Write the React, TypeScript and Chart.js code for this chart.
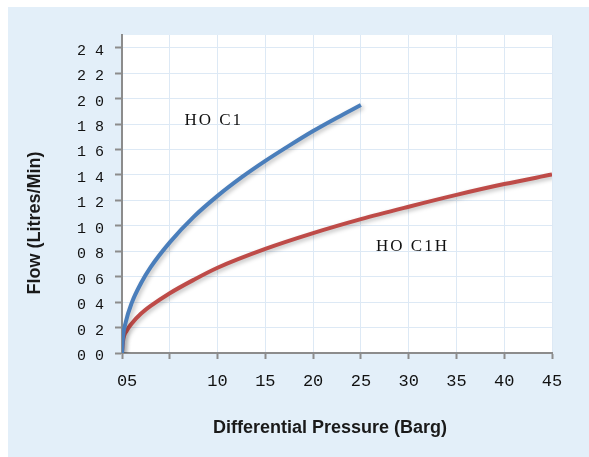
import React, { useEffect, useRef } from "react";
import { Chart, registerables } from "chart.js";
Chart.register(...registerables);

const pressureTicks = [0, 5, 10, 15, 20, 25, 30, 35, 40, 45];
const pressureLabels = [" 05", "", "10", "15", "20", "25", "30", "35", "40", "45"];
const flowTicks = [0, 2, 4, 6, 8, 10, 12, 14, 16, 18, 20, 22, 24];
const flowLabels = ["0 0", "0 2", "0 4", "0 6", "0 8", "1 0", "1 2", "1 4", "1 6", "1 8", "2 0", "2 2", "2 4"];

const hoc1Pressure = [0, 0.1, 0.4, 1, 2, 3, 5, 7.5, 10, 12.5, 15, 17.5, 20, 22.5, 25];
const hoc1Flow = [0, 1.2, 2.45, 3.9, 5.5, 6.75, 8.7, 10.7, 12.35, 13.8, 15.1, 16.3, 17.45, 18.5, 19.5];
const hoc1hPressure = [0, 0.1, 0.5, 1, 2, 3, 5, 7.5, 10, 15, 20, 25, 30, 35, 40, 45];
const hoc1hFlow = [0, 0.9, 1.75, 2.3, 3.1, 3.7, 4.7, 5.75, 6.7, 8.18, 9.42, 10.52, 11.5, 12.43, 13.28, 14.03];

const seriesNames = ["HO C1", "HO C1H"];
const labelPositions = [
  { x: 9.6, y: 18.25 },
  { x: 30.4, y: 8.4 },
];
const xTitle = "Differential Pressure (Barg)";
const yTitle = "Flow (Litres/Min)";

export default function App() {
  const ref = useRef<HTMLCanvasElement | null>(null);
  useEffect(() => {
    const canvas = ref.current;
    if (!canvas) return;
    const shadow = {
      id: "shadow",
      beforeDatasetsDraw(chart: any) {
        const ctx = chart.ctx;
        ctx.save();
        ctx.shadowColor = "rgba(0,0,0,0.25)";
        ctx.shadowBlur = 4;
        ctx.shadowOffsetX = 2;
        ctx.shadowOffsetY = 2;
      },
      afterDatasetsDraw(chart: any) {
        chart.ctx.restore();
      },
    };
    const texts = {
      id: "texts",
      afterDraw(chart: any) {
        const ctx = chart.ctx;
        const xs = chart.scales.x;
        const ys = chart.scales.y;
        ctx.save();
        ctx.fillStyle = "#1a1a1a";
        ctx.textAlign = "center";
        ctx.textBaseline = "middle";
        ctx.font = "bold 18px 'Liberation Sans', Arial, sans-serif";
        ctx.fillText(xTitle, 322, 421, 240);
        ctx.save();
        ctx.translate(27, 216);
        ctx.rotate(-Math.PI / 2);
        ctx.fillText(yTitle, 0, 0, 160);
        ctx.restore();
        ctx.font = "17px 'Liberation Serif', serif";
        (ctx as any).letterSpacing = "2px";
        ctx.fillStyle = "#111";
        seriesNames.forEach((name, i) => {
          const p = labelPositions[i];
          ctx.fillText(name, xs.getPixelForValue(p.x), ys.getPixelForValue(p.y));
        });
        ctx.restore();
      },
    };
    const chart = new Chart(canvas, {
      type: "line",
      data: {
        datasets: [
          {
            label: seriesNames[0],
            data: hoc1Pressure.map((x, i) => ({ x, y: hoc1Flow[i] })),
            borderColor: "#4a7ebb",
            borderWidth: 4,
            pointRadius: 0,
            cubicInterpolationMode: "monotone",
            fill: false,
          },
          {
            label: seriesNames[1],
            data: hoc1hPressure.map((x, i) => ({ x, y: hoc1hFlow[i] })),
            borderColor: "#be4b48",
            borderWidth: 4,
            pointRadius: 0,
            cubicInterpolationMode: "monotone",
            fill: false,
          },
        ],
      },
      options: {
        responsive: false,
        animation: false,
        layout: { padding: { left: 0, top: 28, right: 37, bottom: 0 } },
        plugins: { legend: { display: false }, tooltip: { enabled: false }, title: { display: false } },
        scales: {
          x: {
            type: "linear",
            min: 0,
            max: 45,
            afterBuildTicks: (s: any) => {
              s.ticks = pressureTicks.map((v) => ({ value: v }));
            },
            afterFit: (s: any) => {
              s.height = 104;
            },
            ticks: {
              callback: (v: any) => pressureLabels[pressureTicks.indexOf(Number(v))] ?? "",
              font: { family: "'Liberation Mono', monospace", size: 17 },
              color: "#111",
              padding: 12,
              maxRotation: 0,
              autoSkip: false,
            },
            grid: { color: "#dde9f5", lineWidth: 1, tickLength: 6, tickColor: "#8c8c8c", tickWidth: 2 },
            border: { color: "#8c8c8c", width: 2 },
          },
          y: {
            min: 0,
            max: 25,
            afterBuildTicks: (s: any) => {
              s.ticks = flowTicks.map((v) => ({ value: v }));
            },
            afterFit: (s: any) => {
              s.width = 114;
            },
            ticks: {
              callback: (v: any) => flowLabels[flowTicks.indexOf(Number(v))] ?? "",
              font: { family: "'Liberation Mono', monospace", size: 15 },
              color: "#111",
              padding: 11,
              labelOffset: 3,
              autoSkip: false,
            },
            grid: { color: "#dde9f5", lineWidth: 1, tickLength: 7, tickColor: "#8c8c8c", tickWidth: 2 },
            border: { color: "#8c8c8c", width: 2 },
          },
        },
      },
      plugins: [
        {
          id: "plotBg",
          beforeDraw(c: any) {
            const a = c.chartArea;
            c.ctx.save();
            c.ctx.fillStyle = "#ffffff";
            c.ctx.fillRect(a.left, a.top, a.right - a.left, a.bottom - a.top);
            c.ctx.restore();
          },
        },
        shadow,
        texts,
      ],
    } as any);
    return () => chart.destroy();
  }, []);
  return (
    <div style={{ position: "absolute", left: 8, top: 7, width: 581, height: 450, background: "#e3eff9" }}>
      <canvas ref={ref} width={581} height={450} style={{ display: "block" }} />
    </div>
  );
}
